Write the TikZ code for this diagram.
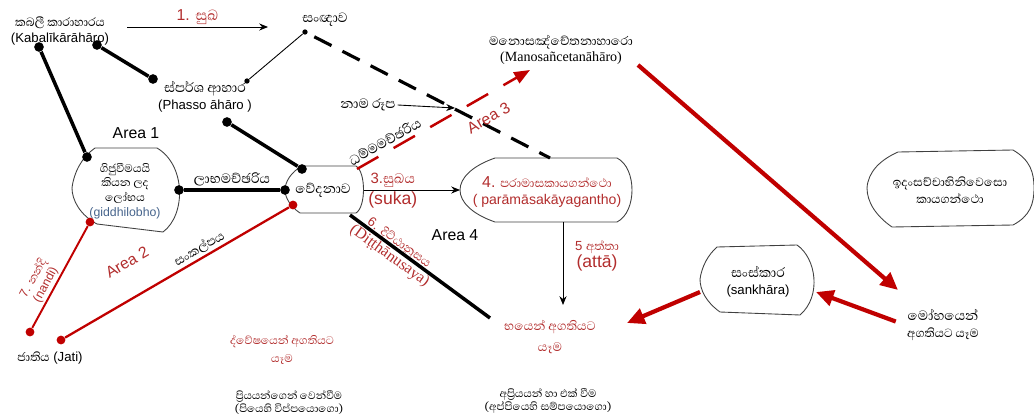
\documentclass[tikz,border=0pt]{standalone}
\usepackage{fontspec}
\setmainfont{Liberation Sans}
\newfontfamily\sinhfont[Script=Sinhala, Scale=1.15]{Abhaya Libre}
\newfontfamily\timesfont{Liberation Serif}
\usetikzlibrary{arrows.meta}
\usetikzlibrary{positioning}
\definecolor{ruby}{RGB}{192,0,0}
\definecolor{rubytext}{RGB}{178,45,45}
\definecolor{giddblue}{RGB}{70,100,140}
\newcommand{\si}[1]{{\sinhfont #1}}
\newcommand{\fs}[2]{\fontsize{#1}{#2}\selectfont}

\begin{document}
\begin{tikzpicture}[x=0.02cm, y=-0.02cm,
		txt/.style={align=center, inner sep=1pt, font=\fs{7.5}{9.5}},
		redtxt/.style={txt, text=rubytext},
		outline/.style={draw=black!75, line width=0.5pt},
		bigdot/.style={circle, fill=black, inner sep=0pt, minimum size=5.5pt},
		smalldot/.style={circle, fill=black, inner sep=0pt, minimum size=3pt},
		reddot/.style={circle, fill=ruby, inner sep=0pt, minimum size=5pt},
		link/.style={line width=2pt},
		redlink/.style={draw=ruby, line width=1.3pt},
		thinarrow/.style={-{Stealth[length=5pt,width=4pt]}, line width=0.5pt},
		bigarrow/.style={draw=ruby, line width=2.4pt, -{Triangle[length=10pt,width=9pt]}}]

	\useasboundingbox (0,0) rectangle (1034,419);

	% outlines of the rounded boxes
	\draw[outline] (95,148) -- (157,148) .. controls (186,165) and (186,215) .. (163,232) -- (97,224) .. controls (80,215) and (72,200) .. (72,188) .. controls (74,172) and (82,157) .. (95,148) -- cycle;
	\draw[outline] (302,166) -- (356,166) .. controls (366,172) and (366,207) .. (356,213) -- (300,213) .. controls (291,207) and (285,198) .. (285,190) .. controls (285,182) and (291,172) .. (302,166) -- cycle;
	\draw[outline] (495,158) -- (617,158) .. controls (637,168) and (637,212) .. (617,222) -- (495,222) .. controls (472,214) and (460,202) .. (460,190) .. controls (460,178) and (472,166) .. (495,158) -- cycle;
	\draw[outline] (898,152) -- (1013,150) .. controls (1030,160) and (1034,172) .. (1034,188) .. controls (1034,204) and (1030,216) .. (1013,225) -- (892,227) .. controls (876,216) and (867,202) .. (867,188) .. controls (868,172) and (880,160) .. (898,152) -- cycle;
	\draw[outline] (717,247) -- (797,245) .. controls (816,258) and (822,296) .. (800,315) -- (720,312) .. controls (706,302) and (700,290) .. (700,279) .. controls (702,266) and (708,255) .. (717,247) -- cycle;

	% texts
	\node[txt] (kab) at (60,31) {\si{කබලී කාරාහාරය}\\(Kabalīkārāhāro)};
	\node[txt, font=\fs{8.5}{10}] (sanna) at (325,20) {\si{සංඥාව}};
	\node[txt] (phasso) at (205,97) {{\fs{8.5}{10}\si{ස්පර්ශ ආහාර}}\\(Phasso āhāro )};
	\node[txt, font=\fs{9}{10}] (area1) at (136,133) {Area 1};
	\node[txt, font=\fs{7}{8.3}] (giddhi) at (125,191) {\si{ගිජුවීමයයි}\\\si{කියන ලද}\\\si{ලෝභය}\\\textcolor{giddblue}{(giddhilobho)}};
	\node[txt, font=\fs{8.5}{10}] (vedana) at (323,190) {\si{වේදනාව}};
	\node[txt, font=\fs{8.5}{10}] (nama) at (368,105) {\si{නාම රූප}};
	\node[txt] (mano) at (561,50) {{\fs{7.8}{9.5}\si{මනොසඤ්චේතනාහාරො}}\\{\timesfont\fs{8}{9.5}(Manosañcetanāhāro)}};
	\node[redtxt] (param) at (547,192) {{\fs{9}{10}4.} \si{පරාමාසකායගන්ථො}\\{\fs{8}{9.5}( parāmāsakāyagantho)}};
	\node[txt, font=\fs{9}{10}] (area4) at (455,235) {Area 4};
	\node[redtxt] (atta) at (597,256) {5 \si{අත්තා}\\{\fs{10}{11}(attā)}};
	\node[txt] (ida) at (950,190) {\si{ඉදංසච්චාභිනිවෙසො}\\\si{කායගන්ථො}};
	\node[txt] (sankh) at (758,282) {{\fs{8.5}{10}\si{සංස්කාර}}\\(sankhāra)};
	\node[txt] (moha) at (943,325) {{\fs{8.5}{10}\si{මෝහයෙන්}}\\\si{අගතියට යෑම}};
	\node[redtxt, font=\fs{7.8}{11.5}] (bhaya) at (550,337) {\si{භයෙන් අගතියට}\\\si{යෑම}};
	\node[redtxt, font=\fs{7}{10}] (dvesha) at (282,350) {\si{ද්වේෂයෙන් අගතියට}\\\si{යෑම}};
	\node[txt, font=\fs{6.7}{7.5}] (priya) at (289,403) {\si{ප්‍රියයන්ගෙන් වෙන්වීම}\\\si{(පියෙහි විප්පයොගො)}};
	\node[txt, font=\fs{6.8}{7.5}] (apriya) at (548,401) {\si{අප්‍රියයන් හා එක් වීම}\\\si{(අප්පියෙහි සම්පයොගො)}};
	\node[txt] (jati) at (50,358) {\si{ජාතිය} (Jati)};
	\node[redtxt, font=\fs{9}{10}, rotate=30] (area2) at (127,262) {Area 2};
	\node[redtxt, rotate=-36] (ditth) at (394,250) {6. \si{දිට්ඨානුසය}\\{\timesfont\fs{9}{10}(Diṭṭhānusaya)}};

	% dots
	\node[bigdot] (d1) at (39,47) {};
	\node[bigdot] (d2) at (97,45) {};
	\node[bigdot] (d3) at (153,79) {};
	\node[smalldot] (d4) at (247,81) {};
	\node[smalldot] (d5) at (305,32) {};
	\node[bigdot] (d6) at (227,122) {};
	\node[bigdot] (d7) at (87,157) {};
	\node[bigdot] (d8) at (179,190) {};
	\node[bigdot] (d9) at (285,190) {};
	\node[bigdot] (d10) at (302,169) {};
	\node[reddot] (r1) at (90,222) {};
	\node[reddot] (r2) at (293,205) {};
	\node[reddot] (r3) at (30,332) {};
	\node[reddot] (r4) at (61,340) {};

	% free ends
	\coordinate (sukhastart) at (127,27);
	\coordinate (sukhaend) at (268,27);
	\coordinate (namatip) at (455,108);
	\coordinate (vedtop) at (357,169);
	\coordinate (manotip) at (530,70);
	\coordinate (pmtop) at (550,158);
	\coordinate (vedright) at (364,190);
	\coordinate (pmleft) at (460,190);
	\coordinate (pmbottom) at (563,222);
	\coordinate (attatip) at (563,305);
	\coordinate (vedbottom) at (350,215);
	\coordinate (ditthend) at (490,318);
	\coordinate (manoout) at (638,65);
	\coordinate (mohatip) at (898,290);
	\coordinate (sankhright) at (816,292);
	\coordinate (sankhleft) at (700,292);
	\coordinate (bhayatip) at (627,323);

	% connectors
	\draw[thinarrow] (sukhastart) -- node[above, redtxt, font=\fs{9}{10}] {1. \si{සුඛ}} (sukhaend);
	\draw[link] (d1) -- (d7);
	\draw[link] (d2) -- (d3);
	\draw[line width=0.5pt] (d4) -- (d5);
	\draw[link] (d6) -- (d10);
	\draw[link] (d8) -- node[above, txt, font=\fs{8.5}{10}] {\si{ලාභමච්ඡරිය}} (d9);
	\draw[redlink, line width=1.1pt] (r3) -- node[sloped, above, pos=0.38, redtxt, font=\fs{7}{8}] {7. \si{නන්දි}\\(nandi)} (r1);
	\draw[redlink] (r4) -- node[sloped, above, pos=0.62, txt, font=\fs{7.8}{9}] {\si{සංකල්පය}} (r2);
	\draw[line width=1.8pt, dash pattern=on 11pt off 7pt, shorten <=0.15cm] (d5) -- (pmtop);
	\draw[thinarrow] (nama.east) -- (namatip);
	\draw[draw=ruby, line width=1.4pt, dash pattern=on 14pt off 10pt, -{Triangle[length=9pt,width=7pt]}] (vedtop) --
		node[sloped, above=1pt, pos=0.19, txt, font=\fs{8.5}{10}] {\si{ධම්මමච්ඡරිය}}
		node[sloped, below=7pt, pos=0.7, redtxt, font=\fs{9}{10}] {Area 3} (manotip);
	\draw[thinarrow] (vedright) -- node[above, pos=0.3, redtxt, font=\fs{8.5}{10}] {3.\si{සුඛය}} node[below, pos=0.3, redtxt, font=\fs{10}{11}] {(suka)} (pmleft);
	\draw[thinarrow] (pmbottom) -- (attatip);
	\draw[link] (vedbottom) -- (ditthend);
	\draw[bigarrow] (manoout) -- (mohatip);
	\draw[bigarrow, shorten <=0.2cm] (moha.west) -- (sankhright);
	\draw[bigarrow] (sankhleft) -- (bhayatip);

\end{tikzpicture}
\end{document}
